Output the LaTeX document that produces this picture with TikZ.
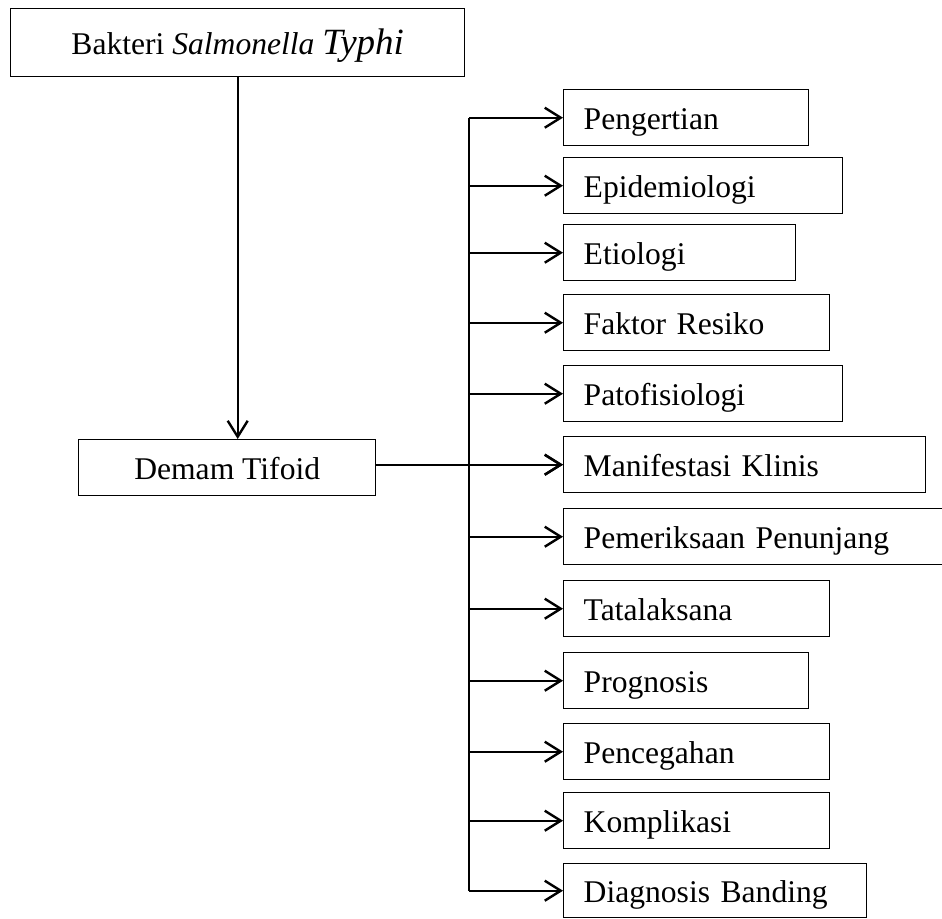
\documentclass[tikz,border=0pt]{standalone}
\usepackage{fontspec}
\setmainfont{Liberation Serif}
\usetikzlibrary{arrows.meta}
\tikzset{
  box/.style={draw, line width=.7pt, inner sep=0pt, text height=12pt, text depth=0pt, font=\fontsize{15.8}{18}\selectfont},
  item/.style={draw, line width=.7pt, anchor=north west, minimum height=28pt, inner xsep=10pt, inner ysep=0pt, text height=12pt, text depth=0pt, align=left, font=\fontsize{15.8}{18}\selectfont},
  arr/.style={line width=1.2pt, -{Straight Barb[length=8pt,width=10pt,line width=1.2pt]}},
  trunkline/.style={line width=1.2pt}
}
\begin{document}
\begin{tikzpicture}[x=.5pt,y=-.5pt]
\useasboundingbox (0,0) rectangle (942,918);
\node[box, anchor=north west, minimum width=227pt, minimum height=34pt] (bakteri) at (10,8) {Bakteri \textit{Salmonella} {\fontsize{18.5}{20}\selectfont\textit{Typhi}}};
\node[box, anchor=north west, minimum width=148.5pt, minimum height=28pt] (demam) at (78,439) {Demam Tifoid};
\node[item, text width=102.5pt] (p1) at (563,89) {Pengertian};
\node[item, text width=119.5pt] (p2) at (563,157) {Epidemiologi};
\node[item, text width=96pt] (p3) at (563,224) {Etiologi};
\node[item, text width=113pt] (p4) at (563,294) {Faktor Resiko};
\node[item, text width=119.5pt] (p5) at (563,365) {Patofisiologi};
\node[item, text width=161pt] (p6) at (563,436) {Manifestasi Klinis};
\node[item, text width=173.5pt] (p7) at (563,508) {Pemeriksaan Penunjang};
\node[item, text width=113pt] (p8) at (563,580) {Tatalaksana};
\node[item, text width=102.5pt] (p9) at (563,652) {Prognosis};
\node[item, text width=113pt] (p10) at (563,723) {Pencegahan};
\node[item, text width=113pt] (p11) at (563,792) {Komplikasi};
\node[item, text width=131.5pt, minimum height=27pt] (p12) at (563,863) {Diagnosis Banding};
\coordinate (trunk) at (469,0);
\draw[arr] (bakteri.south) -- (bakteri.south |- demam.north);
\draw[trunkline] (trunk |- p1.west) -- (trunk |- p12.west);
\draw[arr] (demam.east |- p6.west) -- (p6.west);
\foreach \i in {1,...,12}
  \draw[arr] (trunk |- p\i.west) -- (p\i.west);
\end{tikzpicture}
\end{document}
